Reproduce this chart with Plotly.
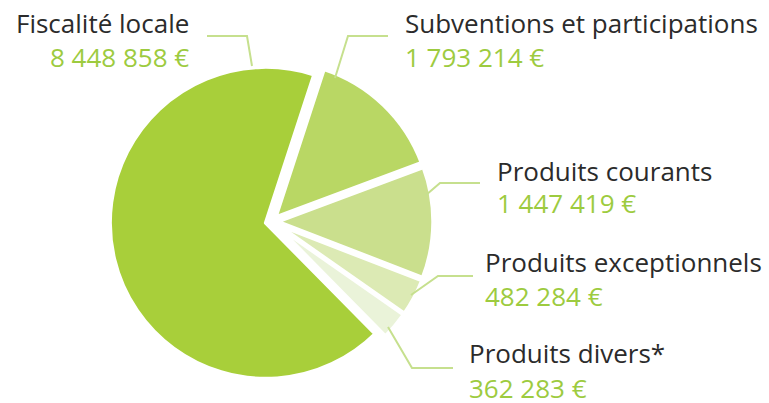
import plotly.graph_objects as go

labels = ["Fiscalité locale", "Subventions et participations", "Produits courants",
          "Produits exceptionnels", "Produits divers*"]
values = [8448858, 1793214, 1447419, 482284, 362283]
colors = ["#A8CF3A", "#B9D764", "#CADF8D", "#DCEAB4", "#EAF3D9"]

W, H = 769, 403

def px(x):
    return x / W

def py(y):
    return 1 - y / H

def fmt(v):
    return f"{v:,}".replace(",", " ") + " €"

cx, cy, R, pull = 271.5, 221.5, 156, 0.037
half = R * (1 + pull)

fig = go.Figure(go.Pie(
    labels=labels, values=values, sort=False, direction="clockwise",
    rotation=135.4, pull=[pull] * len(values),
    marker=dict(colors=colors, line=dict(color="white", width=4)),
    textinfo="none", hoverinfo="label+value",
    domain=dict(x=[px(cx - half), px(cx + half)], y=[py(cy + half), py(cy - half)]),
))

# label positions (pixel layout): (x, anchor, label_y, value_y)
label_pos = [
    (191, "right", 23, 57),
    (403, "left", 23, 57),
    (495, "left", 171, 203),
    (483, "left", 262, 296),
    (467, "left", 353, 388),
]
leaders = [
    [(207, 36), (247, 36), (252, 66)],
    [(388, 36), (348, 36), (335, 78)],
    [(480, 183), (440, 183), (426, 195)],
    [(473, 276), (438, 276), (411, 295)],
    [(453, 368), (412, 368), (388, 327)],
]

annotations = []
for lab, val, (x, anc, ly, vy) in zip(labels, values, label_pos):
    annotations.append(dict(x=px(x), y=py(ly), xref="paper", yref="paper", text=lab,
                            showarrow=False, xanchor=anc, yanchor="middle",
                            font=dict(family="Open Sans", size=26, color="#2B2B2B")))
    annotations.append(dict(x=px(x), y=py(vy), xref="paper", yref="paper", text=fmt(val),
                            showarrow=False, xanchor=anc, yanchor="middle",
                            font=dict(family="Open Sans", size=26, color="#9DCB3F")))

shapes = []
for pts in leaders:
    path = "M " + " L ".join(f"{px(x)},{py(y)}" for x, y in pts)
    shapes.append(dict(type="path", path=path, xref="paper", yref="paper",
                       line=dict(color="#C6E08E", width=2)))

fig.update_layout(width=W, height=H, margin=dict(l=0, r=0, t=0, b=0),
                  showlegend=False, paper_bgcolor="white", plot_bgcolor="white",
                  annotations=annotations, shapes=shapes)
fig.write_html("out.html", config={"displayModeBar": False},
               post_script="document.body.style.margin='0';document.body.style.overflow='hidden';")
